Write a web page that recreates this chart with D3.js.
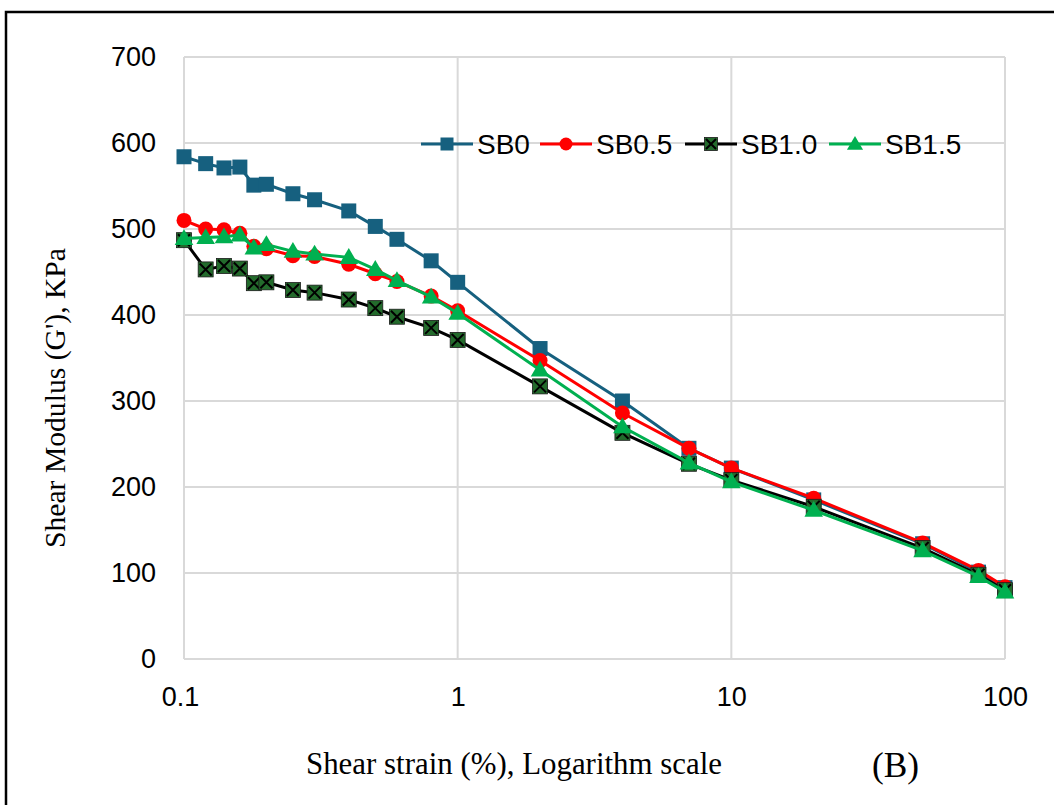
<!DOCTYPE html>
<html>
<head>
<meta charset="utf-8">
<script src="https://cdn.jsdelivr.net/npm/d3@7"></script>
<style>
  body { margin: 0; background: #fff; }
  svg text { font-family: "Liberation Sans", Arial, sans-serif; }
  .serif { font-family: "Liberation Serif", "Times New Roman", serif; }
</style>
</head>
<body>
<div id="chart"></div>
<script>
// shear modulus vs strain, log x axis

var strain = [0.1, 0.12, 0.14, 0.16, 0.18, 0.2, 0.25, 0.3, 0.4, 0.5, 0.6, 0.8, 1, 2, 4, 7, 10, 20, 50, 80, 100];
var sb0  = [584, 576, 571, 572, 551, 552, 541, 534, 521, 503, 488, 463, 438, 361, 300, 245, 222, 185, 134, 101, 83];
var sb05 = [510, 500, 499, 495, 480, 477, 469, 468, 459, 448, 439, 422, 405, 347, 286, 245, 222, 187, 135, 103, 84];
var sb10 = [487, 453, 457, 454, 437, 438, 429, 426, 418, 408, 398, 385, 371, 317, 263, 227, 208, 177, 129, 98, 80];
var sb15 = [489, 490, 491, 493, 478, 482, 474, 471, 467, 453, 440, 421, 402, 336, 270, 228, 206, 173, 126, 96, 78];
var seriesNames = ["SB0", "SB0.5", "SB1.0", "SB1.5"];
var xTicks = [0.1, 1, 10, 100];
var yTicks = [0, 100, 200, 300, 400, 500, 600, 700];

var W = 1054, H = 805;
var plot = {left: 184, right: 1005, top: 57, bottom: 659};

var svg = d3.select("#chart").append("svg")
    .attr("width", W)
    .attr("height", H);

// outer frame (only top and left edges visible)
svg.append("path")
    .attr("d", "M6," + (H + 5) + "V12H" + (W + 5))
    .attr("fill", "none")
    .attr("stroke", "#000")
    .attr("stroke-width", 2.5);

var x = d3.scaleLog().domain([0.1, 100]).range([plot.left, plot.right]);
var y = d3.scaleLinear().domain([0, 700]).range([plot.bottom, plot.top]);

// grid
var grid = svg.append("g");
grid.selectAll(".hg").data(yTicks).enter().append("line")
    .attr("x1", plot.left).attr("x2", plot.right)
    .attr("y1", function(d){ return y(d); })
    .attr("y2", function(d){ return y(d); })
    .attr("stroke", "#d9d9d9")
    .attr("stroke-width", 2);
grid.selectAll(".vg").data(xTicks).enter().append("line")
    .attr("y1", plot.top).attr("y2", plot.bottom)
    .attr("x1", function(d){ return x(d); })
    .attr("x2", function(d){ return x(d); })
    .attr("stroke", "#d9d9d9")
    .attr("stroke-width", 2);

// axes (labels only, via d3 axis)
var yAxis = svg.append("g")
    .attr("transform", "translate(" + (plot.left - 28) + ",0)")
    .call(d3.axisLeft(y).tickValues(yTicks).tickSize(0).tickPadding(0));
yAxis.select(".domain").remove();
yAxis.selectAll("text")
    .attr("font-size", 27)
    .attr("font-family", "Liberation Sans, Arial, sans-serif")
    .attr("fill", "#000");

var xAxis = svg.append("g")
    .attr("transform", "translate(0," + (plot.bottom + 28) + ")")
    .call(d3.axisBottom(x).tickValues(xTicks).tickSize(0).tickPadding(0)
        .tickFormat(function(d){ return String(d); }));
xAxis.select(".domain").remove();
xAxis.selectAll("text")
    .attr("font-size", 27)
    .attr("font-family", "Liberation Sans, Arial, sans-serif")
    .attr("fill", "#000");
xAxis.selectAll(".tick").filter(function(d){ return d === 0.1; })
    .select("text").attr("dx", -4);

// series styles
var styles = [
    {name: seriesNames[0], values: sb0,  color: "#16607f", marker: "square"},
    {name: seriesNames[1], values: sb05, color: "#ff0000", marker: "circle"},
    {name: seriesNames[2], values: sb10, color: "#000000", marker: "xsquare"},
    {name: seriesNames[3], values: sb15, color: "#00b050", marker: "triangle"}
];

function drawMarker(g, type, color, cx, cy, s) {
    if (type === "square") {
        g.append("rect").attr("x", cx - s / 2).attr("y", cy - s / 2)
            .attr("width", s).attr("height", s).attr("fill", color);
    } else if (type === "circle") {
        g.append("circle").attr("cx", cx).attr("cy", cy).attr("r", s / 2)
            .attr("fill", color);
    } else if (type === "xsquare") {
        g.append("rect").attr("x", cx - s / 2).attr("y", cy - s / 2)
            .attr("width", s).attr("height", s).attr("fill", "#236b2c")
            .attr("stroke", "#1a1a1a").attr("stroke-width", 0.8);
        var h = s / 2 - 1.5;
        g.append("path")
            .attr("d", "M" + (cx - h) + "," + (cy - h) + "L" + (cx + h) + "," + (cy + h) +
                       "M" + (cx + h) + "," + (cy - h) + "L" + (cx - h) + "," + (cy + h))
            .attr("stroke", "#000").attr("stroke-width", 2);
    } else if (type === "triangle") {
        var r = s * 0.62;
        g.append("path")
            .attr("d", "M" + cx + "," + (cy - r) +
                       "L" + (cx + r) + "," + (cy + r * 0.7) +
                       "L" + (cx - r) + "," + (cy + r * 0.7) + "Z")
            .attr("fill", color);
    }
}

var line = d3.line()
    .x(function(d){ return x(d[0]); })
    .y(function(d){ return y(d[1]); });

styles.forEach(function(s){
    var pts = strain.map(function(v, i){ return [v, s.values[i]]; });
    var g = svg.append("g");
    g.append("path")
        .datum(pts)
        .attr("d", line)
        .attr("fill", "none")
        .attr("stroke", s.color)
        .attr("stroke-width", 3);
    pts.forEach(function(p){
        drawMarker(g, s.marker, s.color, x(p[0]), y(p[1]), 15);
    });
});

// legend
var legX = [421, 540, 685, 829];
var leg = svg.append("g");
styles.forEach(function(s, i){
    var lx = legX[i], ly = 144;
    leg.append("line")
        .attr("x1", lx).attr("x2", lx + 52)
        .attr("y1", ly).attr("y2", ly)
        .attr("stroke", s.color).attr("stroke-width", 3);
    drawMarker(leg, s.marker, s.color, lx + 26, ly, 13);
    leg.append("text")
        .attr("x", lx + 56).attr("y", ly + 10)
        .attr("font-size", 28)
        .attr("fill", "#000")
        .text(s.name);
});

// axis titles
svg.append("text")
    .attr("class", "serif")
    .attr("x", 306).attr("y", 774)
    .attr("font-size", 31)
    .attr("textLength", 416)
    .attr("lengthAdjust", "spacingAndGlyphs")
    .text("Shear strain (%), Logarithm scale");

svg.append("text")
    .attr("class", "serif")
    .attr("x", 872).attr("y", 777)
    .attr("font-size", 35)
    .attr("textLength", 47)
    .attr("lengthAdjust", "spacingAndGlyphs")
    .text("(B)");

svg.append("text")
    .attr("class", "serif")
    .attr("transform", "translate(65,398) rotate(-90)")
    .attr("text-anchor", "middle")
    .attr("font-size", 30)
    .attr("textLength", 300)
    .attr("lengthAdjust", "spacingAndGlyphs")
    .text("Shear Modulus (G'), KPa");
</script>
</body>
</html>
